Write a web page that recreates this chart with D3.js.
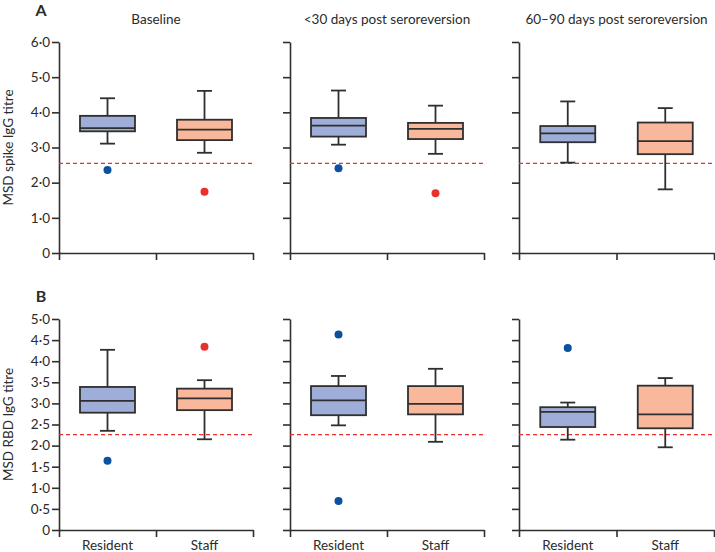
<!DOCTYPE html>
<html><head><meta charset="utf-8">
<script src="https://cdn.jsdelivr.net/npm/d3@7"></script>
<style>body{margin:0;background:#fff}svg{display:block}text{font-family:Lato,"Noto Sans",sans-serif;fill:#2b2b2b}</style>
</head><body><svg id="c" width="715" height="552"></svg>
<script>
// ---- data ----
const categories = ["Resident", "Staff"];
const panelTitles = ["Baseline", "<30 days post seroreversion", "60\u201390 days post seroreversion"];
// box stats: [whiskerLow, q1, median, q3, whiskerHigh]
const spikeResident = [[3.11, 3.46, 3.55, 3.90, 4.40], [3.08, 3.31, 3.62, 3.84, 4.62], [2.57, 3.15, 3.40, 3.61, 4.31]];
const spikeStaff    = [[2.85, 3.21, 3.51, 3.79, 4.61], [2.82, 3.24, 3.53, 3.70, 4.19], [1.81, 2.81, 3.18, 3.71, 4.12]];
const spikeResidentOutliers = [[2.36], [2.41], []];
const spikeStaffOutliers    = [[1.74], [1.70], []];
const rbdResident = [[2.35, 2.78, 3.06, 3.39, 4.27], [2.48, 2.72, 3.07, 3.41, 3.65], [2.14, 2.44, 2.80, 2.91, 3.02]];
const rbdStaff    = [[2.15, 2.84, 3.12, 3.35, 3.55], [2.09, 2.74, 2.99, 3.41, 3.82], [1.96, 2.41, 2.74, 3.42, 3.60]];
const rbdResidentOutliers = [[1.64], [4.63, 0.69], [4.31]];
const rbdStaffOutliers    = [[4.34], [], []];
const spikeThreshold = 2.55;
const rbdThreshold = 2.26;
const spikeTicks = [0, 1, 2, 3, 4, 5, 6];
const rbdTicks = [0, 0.5, 1, 1.5, 2, 2.5, 3, 3.5, 4, 4.5, 5];

// ---- layout ----
const svg = d3.select("#c");
const panelX = [[59, 253], [290, 484], [519, 714]];
const rows = [
  {label: "A", ylab: "MSD spike IgG titre", domain: [0, 6], range: [253, 42], ticks: spikeTicks,
   res: spikeResident, staff: spikeStaff, resOut: spikeResidentOutliers, staffOut: spikeStaffOutliers,
   thr: spikeThreshold, letterY: 16, titles: true, xlabels: false},
  {label: "B", ylab: "MSD RBD IgG titre", domain: [0, 5], range: [530, 319], ticks: rbdTicks,
   res: rbdResident, staff: rbdStaff, resOut: rbdResidentOutliers, staffOut: rbdStaffOutliers,
   thr: rbdThreshold, letterY: 302, titles: false, xlabels: true}
];
const fillC = {Resident: "#9eaed8", Staff: "#f9b89c"};
const dotC = {Resident: "#0b519f", Staff: "#e8312b"};
const ink = "#2f2f2f";
const fs = 13.5;
const fmt = v => v === 0 ? "0" : d3.format(".1f")(v).replace(".", "\u00b7");

rows.forEach(row => {
  const y = d3.scaleLinear().domain(row.domain).range(row.range);
  svg.append("text").attr("x", 41).attr("y", row.letterY).attr("text-anchor", "middle")
    .attr("font-size", 16).attr("font-weight", "bold").text(row.label);
  const midY = (row.range[0] + row.range[1]) / 2;
  svg.append("text").attr("transform", `translate(13,${midY}) rotate(-90)`).attr("text-anchor", "middle")
    .attr("font-size", fs).text(row.ylab);

  panelX.forEach((px, i) => {
    const g = svg.append("g");
    const xb = d3.scaleBand().domain(categories).range(px).padding(0);
    const xl = d3.scaleLinear().domain([0, 2]).range(px);

    const ya = g.append("g").attr("transform", `translate(${px[0]},0)`)
      .call(d3.axisLeft(y).tickValues(row.ticks).tickFormat(i === 0 ? fmt : "").tickSize(7).tickSizeOuter(0));
    const xa = g.append("g").attr("transform", `translate(0,${row.range[0]})`)
      .call(d3.axisBottom(xl).tickValues([0, 1, 2]).tickFormat("").tickSize(7).tickSizeOuter(0));
    [ya, xa].forEach(a => {
      a.select(".domain").attr("stroke", ink).attr("stroke-width", 1.6);
      a.selectAll(".tick line").attr("stroke", ink).attr("stroke-width", 1.6);
      a.selectAll(".tick text").attr("fill", "#2b2b2b").attr("font-size", fs)
        .attr("font-family", 'Lato,"Noto Sans",sans-serif');
    });
    ya.selectAll(".tick text").attr("x", -9);

    if (row.xlabels) {
      categories.forEach(c => {
        g.append("text").attr("x", xb(c) + xb.bandwidth() / 2).attr("y", row.range[0] + 20)
          .attr("text-anchor", "middle").attr("font-size", fs).text(c);
      });
    }
    if (row.titles) {
      g.append("text").attr("x", (px[0] + px[1]) / 2).attr("y", 24).attr("text-anchor", "middle")
        .attr("font-size", fs).text(panelTitles[i]);
    }

    g.append("line").attr("x1", px[0]).attr("x2", px[1]).attr("y1", y(row.thr)).attr("y2", y(row.thr))
      .attr("stroke", "#e8312b").attr("stroke-width", 1.4).attr("stroke-dasharray", "4,3");

    const stats = {Resident: row.res[i], Staff: row.staff[i]};
    const outs = {Resident: row.resOut[i], Staff: row.staffOut[i]};
    categories.forEach(c => {
      const [lo, q1, med, q3, hi] = stats[c];
      const cx = xb(c) + xb.bandwidth() / 2;
      const bw = 55, cw = 15;
      g.append("line").attr("x1", cx).attr("x2", cx).attr("y1", y(hi)).attr("y2", y(q3)).attr("stroke", ink).attr("stroke-width", 1.8);
      g.append("line").attr("x1", cx).attr("x2", cx).attr("y1", y(q1)).attr("y2", y(lo)).attr("stroke", ink).attr("stroke-width", 1.8);
      [hi, lo].forEach(v => g.append("line").attr("x1", cx - cw / 2).attr("x2", cx + cw / 2)
        .attr("y1", y(v)).attr("y2", y(v)).attr("stroke", ink).attr("stroke-width", 1.8));
      g.append("rect").attr("x", cx - bw / 2).attr("width", bw).attr("y", y(q3)).attr("height", y(q1) - y(q3))
        .attr("fill", fillC[c]).attr("stroke", ink).attr("stroke-width", 1.8);
      g.append("line").attr("x1", cx - bw / 2).attr("x2", cx + bw / 2).attr("y1", y(med)).attr("y2", y(med))
        .attr("stroke", ink).attr("stroke-width", 1.8);
      g.selectAll(null).data(outs[c]).join("circle").attr("cx", cx).attr("cy", d => y(d)).attr("r", 4)
        .attr("fill", dotC[c]);
    });
  });
});
</script></body></html>
